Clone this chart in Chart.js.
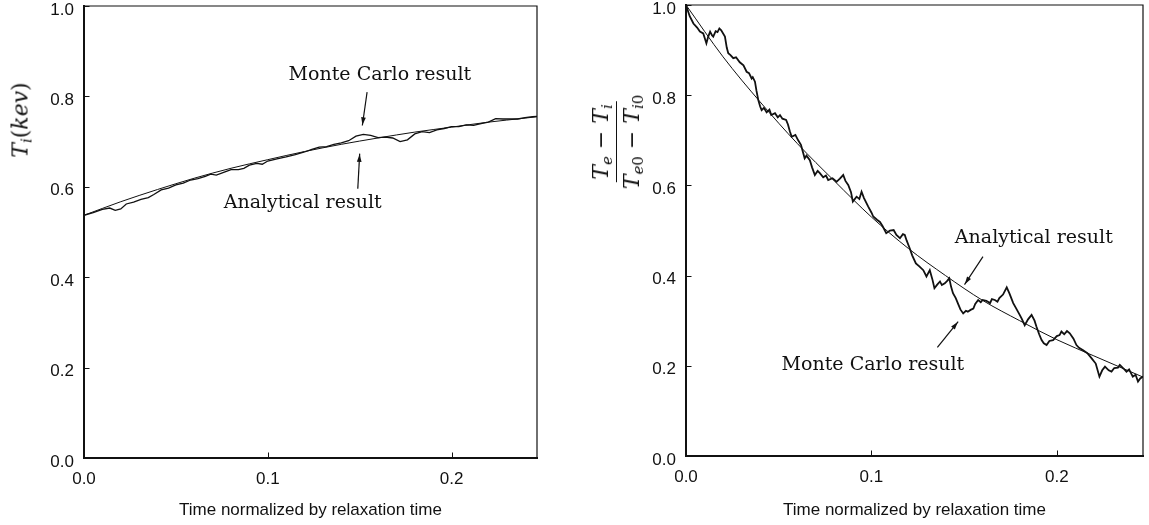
<!DOCTYPE html>
<html>
<head>
<meta charset="utf-8">
<script src="https://cdn.jsdelivr.net/npm/chart.js@4.4.1/dist/chart.umd.min.js"></script>
<style>
  html, body { margin: 0; padding: 0; background: #fff; }
  body { width: 1149px; height: 525px; position: relative; overflow: hidden; }
  .panel { position: absolute; top: 0; height: 525px; }
  #leftWrap { left: 0; width: 560px; }
  #rightWrap { left: 600px; width: 549px; }
  .ytitle {
    position: absolute;
    font-family: "DejaVu Serif", "Liberation Serif", serif;
    font-style: italic;
    font-size: 22px;
    color: #111;
    white-space: nowrap;
    transform: translate(-50%, -50%) rotate(-90deg);
  }
  .ytitle sub { font-size: 0.68em; vertical-align: -0.3em; line-height: 0; }
  .up { font-style: normal; }
  .frac { display: inline-flex; flex-direction: column; align-items: center; }
  .frac .num { border-bottom: 1.2px solid #111; padding: 0 3px 3px; }
  .frac .den { padding: 2px 3px 0; }
</style>
</head>
<body>
<div id="leftWrap" class="panel"><canvas id="tiChart" width="560" height="525"></canvas></div>
<div id="rightWrap" class="panel"><canvas id="ratioChart" width="549" height="525"></canvas></div>

<div class="ytitle" style="left:20px; top:120px;">T<sub>i</sub><span class="up">(</span>kev<span class="up">)</span></div>
<div class="ytitle" style="left:616px; top:142px;">
  <div class="frac">
    <span class="num">T<sub>e</sub> <span class="up">−</span> T<sub>i</sub></span>
    <span class="den">T<sub>e<span class="up">0</span></sub> <span class="up">−</span> T<sub>i<span class="up">0</span></sub></span>
  </div>
</div>

<script>
// axis ticks
const timeTicks = [0.0, 0.1, 0.2];
const valueTicks = [0.0, 0.2, 0.4, 0.6, 0.8, 1.0];
const timeMax = 0.2465;

// left panel: ion temperature (kev)
const tiTime     = [0.000, 0.020, 0.040, 0.060, 0.080, 0.100, 0.120, 0.140, 0.160, 0.180, 0.200, 0.220, 0.240, 0.2465];
const tiAnalytic = [0.537, 0.567, 0.594, 0.619, 0.641, 0.660, 0.678, 0.694, 0.708, 0.721, 0.732, 0.743, 0.752, 0.755];

const tiMcTime = [0.000, 0.005, 0.010, 0.014, 0.017, 0.020, 0.023, 0.027, 0.031, 0.035, 0.038, 0.042, 0.046, 0.050,
  0.054, 0.058, 0.062, 0.066, 0.069, 0.072, 0.076, 0.080, 0.084, 0.087, 0.090, 0.094, 0.097, 0.100, 0.105, 0.110,
  0.115, 0.120, 0.124, 0.128, 0.132, 0.136, 0.140, 0.144, 0.148, 0.152, 0.156, 0.160, 0.164, 0.168, 0.172, 0.176,
  0.180, 0.184, 0.188, 0.192, 0.196, 0.200, 0.204, 0.208, 0.212, 0.216, 0.220, 0.224, 0.228, 0.232, 0.236, 0.240,
  0.244, 0.2465];
const tiMc = [0.537, 0.543, 0.550, 0.553, 0.548, 0.551, 0.562, 0.566, 0.572, 0.576, 0.583, 0.593, 0.597, 0.604,
  0.608, 0.615, 0.618, 0.623, 0.628, 0.626, 0.632, 0.638, 0.638, 0.641, 0.648, 0.652, 0.650, 0.657, 0.662, 0.666,
  0.671, 0.677, 0.683, 0.688, 0.689, 0.694, 0.697, 0.702, 0.712, 0.716, 0.714, 0.709, 0.710, 0.708, 0.700, 0.704,
  0.717, 0.722, 0.720, 0.726, 0.729, 0.733, 0.733, 0.737, 0.736, 0.740, 0.743, 0.751, 0.750, 0.750, 0.750, 0.753,
  0.755, 0.756];

// right panel: normalized temperature difference
const ratioTime     = [0.000, 0.020, 0.040, 0.060, 0.080, 0.100, 0.120, 0.140, 0.160, 0.180, 0.200, 0.220, 0.2465];
const ratioAnalytic = [1.000, 0.885, 0.785, 0.693, 0.610, 0.530, 0.460, 0.400, 0.345, 0.300, 0.258, 0.222, 0.175];

const ratioMcTime = [0.000, 0.002, 0.004, 0.006, 0.0075, 0.0093, 0.010, 0.011, 0.012, 0.013, 0.014, 0.0147, 0.016,
  0.017, 0.018, 0.019, 0.021, 0.022, 0.0228, 0.024, 0.0255, 0.027, 0.029, 0.031, 0.0327, 0.034, 0.0354, 0.036,
  0.0372, 0.038, 0.039, 0.040, 0.0408, 0.042, 0.0435, 0.045, 0.046, 0.048, 0.0495, 0.0507, 0.052, 0.054, 0.055,
  0.056, 0.057, 0.059, 0.0605, 0.062, 0.063, 0.064, 0.065, 0.0668, 0.068, 0.0695, 0.071, 0.0722, 0.074, 0.0755,
  0.0767, 0.079, 0.0812, 0.083, 0.0848, 0.086, 0.0875, 0.089, 0.090, 0.092, 0.0935, 0.0947, 0.096, 0.0983, 0.100,
  0.101, 0.103, 0.1046, 0.106, 0.108, 0.110, 0.112, 0.1135, 0.1154, 0.117, 0.118, 0.119, 0.1208, 0.122, 0.124,
  0.126, 0.128, 0.1297, 0.1315, 0.133, 0.134, 0.1355, 0.137, 0.138, 0.1396, 0.141, 0.142, 0.143, 0.144, 0.1455,
  0.147, 0.148, 0.1495, 0.151, 0.152, 0.1535, 0.155, 0.156, 0.1576, 0.159, 0.160, 0.162, 0.164, 0.165, 0.1666,
  0.168, 0.169, 0.171, 0.173, 0.1745, 0.1765, 0.178, 0.180, 0.181, 0.1827, 0.1845, 0.1864, 0.188, 0.189, 0.1905,
  0.1918, 0.193, 0.1945, 0.196, 0.198, 0.200, 0.2015, 0.2025, 0.204, 0.2055, 0.207, 0.209, 0.2106, 0.212, 0.214,
  0.2165, 0.2187, 0.221, 0.223, 0.2245, 0.226, 0.228, 0.2295, 0.231, 0.233, 0.234, 0.236, 0.2376, 0.239, 0.241,
  0.2425, 0.2438, 0.245, 0.2465];
const ratioMc = [1.000, 0.975, 0.959, 0.950, 0.941, 0.937, 0.928, 0.915, 0.930, 0.941, 0.933, 0.930, 0.942,
  0.940, 0.948, 0.944, 0.930, 0.905, 0.893, 0.889, 0.882, 0.884, 0.873, 0.866, 0.852, 0.849, 0.837, 0.840,
  0.830, 0.810, 0.789, 0.775, 0.767, 0.772, 0.762, 0.768, 0.756, 0.760, 0.751, 0.756, 0.748, 0.745, 0.735,
  0.720, 0.708, 0.712, 0.700, 0.690, 0.675, 0.660, 0.666, 0.656, 0.640, 0.623, 0.632, 0.627, 0.618, 0.622,
  0.612, 0.616, 0.608, 0.615, 0.623, 0.610, 0.601, 0.585, 0.564, 0.575, 0.570, 0.586, 0.572, 0.553, 0.540,
  0.531, 0.524, 0.519, 0.510, 0.494, 0.500, 0.501, 0.490, 0.483, 0.492, 0.490, 0.478, 0.459, 0.445, 0.427,
  0.420, 0.412, 0.398, 0.412, 0.390, 0.372, 0.380, 0.387, 0.379, 0.383, 0.389, 0.394, 0.375, 0.361, 0.350,
  0.335, 0.325, 0.316, 0.322, 0.320, 0.324, 0.327, 0.337, 0.346, 0.341, 0.346, 0.344, 0.339, 0.348, 0.346,
  0.342, 0.350, 0.358, 0.374, 0.360, 0.339, 0.328, 0.313, 0.305, 0.290, 0.303, 0.313, 0.300, 0.287, 0.270,
  0.257, 0.250, 0.246, 0.255, 0.257, 0.266, 0.268, 0.276, 0.270, 0.277, 0.272, 0.260, 0.246, 0.240, 0.235,
  0.228, 0.217, 0.205, 0.176, 0.190, 0.198, 0.190, 0.187, 0.195, 0.196, 0.202, 0.194, 0.187, 0.192, 0.176,
  0.180, 0.165, 0.172, 0.176];

const ink = '#111';
const sansFont = 'Liberation Sans';

function pairs(xs, ys) {
  return xs.map((x, i) => ({ x: x, y: ys[i] }));
}

// box round the plot, inward ticks, and the arrow labels
const frameAndNotes = {
  id: 'frameAndNotes',
  afterDatasetsDraw(chart, args, opts) {
    const { ctx, chartArea: a, scales: { x, y } } = chart;
    ctx.save();
    ctx.strokeStyle = ink;
    ctx.fillStyle = ink;
    ctx.lineCap = 'square';

    ctx.lineWidth = 1.2;
    ctx.beginPath();
    ctx.moveTo(a.left, a.top); ctx.lineTo(a.right, a.top); ctx.lineTo(a.right, a.bottom);
    ctx.stroke();
    ctx.lineWidth = 2;
    ctx.beginPath();
    ctx.moveTo(a.left, a.top); ctx.lineTo(a.left, a.bottom); ctx.lineTo(a.right, a.bottom);
    ctx.stroke();

    ctx.lineWidth = 1;
    x.ticks.forEach(t => {
      const px = Math.round(x.getPixelForValue(t.value)) + 0.5;
      ctx.beginPath(); ctx.moveTo(px, a.bottom); ctx.lineTo(px, a.bottom - 5); ctx.stroke();
    });
    y.ticks.forEach(t => {
      const py = Math.round(y.getPixelForValue(t.value)) + 0.5;
      ctx.beginPath(); ctx.moveTo(a.left, py); ctx.lineTo(a.left + 5, py); ctx.stroke();
    });

    ctx.font = '19px "DejaVu Serif"';
    ctx.textAlign = 'center';
    ctx.textBaseline = 'middle';
    (opts.notes || []).forEach(n => {
      ctx.fillText(n.text, x.getPixelForValue(n.at[0]), y.getPixelForValue(n.at[1]));
      const x0 = x.getPixelForValue(n.from[0]), y0 = y.getPixelForValue(n.from[1]);
      const x1 = x.getPixelForValue(n.to[0]), y1 = y.getPixelForValue(n.to[1]);
      ctx.lineWidth = 1.2;
      ctx.beginPath(); ctx.moveTo(x0, y0); ctx.lineTo(x1, y1); ctx.stroke();
      const ang = Math.atan2(y1 - y0, x1 - x0);
      ctx.beginPath();
      ctx.moveTo(x1, y1);
      ctx.lineTo(x1 - 8 * Math.cos(ang - 0.3), y1 - 8 * Math.sin(ang - 0.3));
      ctx.lineTo(x1 - 8 * Math.cos(ang + 0.3), y1 - 8 * Math.sin(ang + 0.3));
      ctx.closePath();
      ctx.fill();
    });
    ctx.restore();
  }
};

function makeChart(canvasId, analytic, mc, mcWidth, box, notes) {
  return new Chart(document.getElementById(canvasId), {
    type: 'line',
    data: {
      datasets: [
        {
          label: 'Analytical result',
          data: analytic,
          borderColor: ink,
          borderWidth: 1,
          pointRadius: 0,
          cubicInterpolationMode: 'monotone',
          fill: false
        },
        {
          label: 'Monte Carlo result',
          data: mc,
          borderColor: ink,
          borderWidth: mcWidth,
          pointRadius: 0,
          tension: 0,
          fill: false
        }
      ]
    },
    options: {
      responsive: false,
      animation: false,
      layout: { padding: { left: 0, top: box.top, right: box.right, bottom: 0 } },
      plugins: {
        legend: { display: false },
        tooltip: { enabled: false },
        frameAndNotes: { notes: notes }
      },
      scales: {
        x: {
          type: 'linear',
          min: 0,
          max: timeMax,
          afterBuildTicks: s => { s.ticks = timeTicks.map(v => ({ value: v })); },
          afterFit: s => { s.height = box.xHeight; s.paddingLeft = 0; s.paddingRight = 0; },
          grid: { display: false, drawTicks: false },
          border: { display: false },
          ticks: {
            color: ink,
            font: { family: sansFont, size: 17 },
            padding: 11,
            maxRotation: 0,
            autoSkip: false,
            callback: v => v.toFixed(1)
          },
          title: {
            display: true,
            text: 'Time normalized by relaxation time',
            color: ink,
            font: { family: sansFont, size: 17 },
            padding: { top: 0, bottom: 4 }
          }
        },
        y: {
          type: 'linear',
          min: 0,
          max: 1,
          afterBuildTicks: s => { s.ticks = valueTicks.map(v => ({ value: v })); },
          afterFit: s => { s.width = box.yWidth; s.paddingTop = 0; s.paddingBottom = 0; },
          grid: { display: false, drawTicks: false },
          border: { display: false },
          ticks: {
            color: ink,
            font: { family: sansFont, size: 17 },
            padding: 10,
            labelOffset: 4,
            callback: v => v.toFixed(1)
          }
        }
      }
    },
    plugins: [frameAndNotes]
  });
}

makeChart('tiChart',
  pairs(tiTime, tiAnalytic),
  pairs(tiMcTime, tiMc),
  1.3,
  { top: 6, right: 23, yWidth: 84, xHeight: 67 },
  [
    { text: 'Monte Carlo result', at: [0.161, 0.847], from: [0.154, 0.808], to: [0.1515, 0.737] },
    { text: 'Analytical result', at: [0.119, 0.564], from: [0.149, 0.597], to: [0.150, 0.672] }
  ]);

makeChart('ratioChart',
  pairs(ratioTime, ratioAnalytic),
  pairs(ratioMcTime, ratioMc),
  1.8,
  { top: 5, right: 6, yWidth: 86, xHeight: 69 },
  [
    { text: 'Analytical result', at: [0.1876, 0.483], from: [0.160, 0.441], to: [0.1504, 0.381] },
    { text: 'Monte Carlo result', at: [0.1008, 0.202], from: [0.1358, 0.242], to: [0.1466, 0.297] }
  ]);
</script>
</body>
</html>
